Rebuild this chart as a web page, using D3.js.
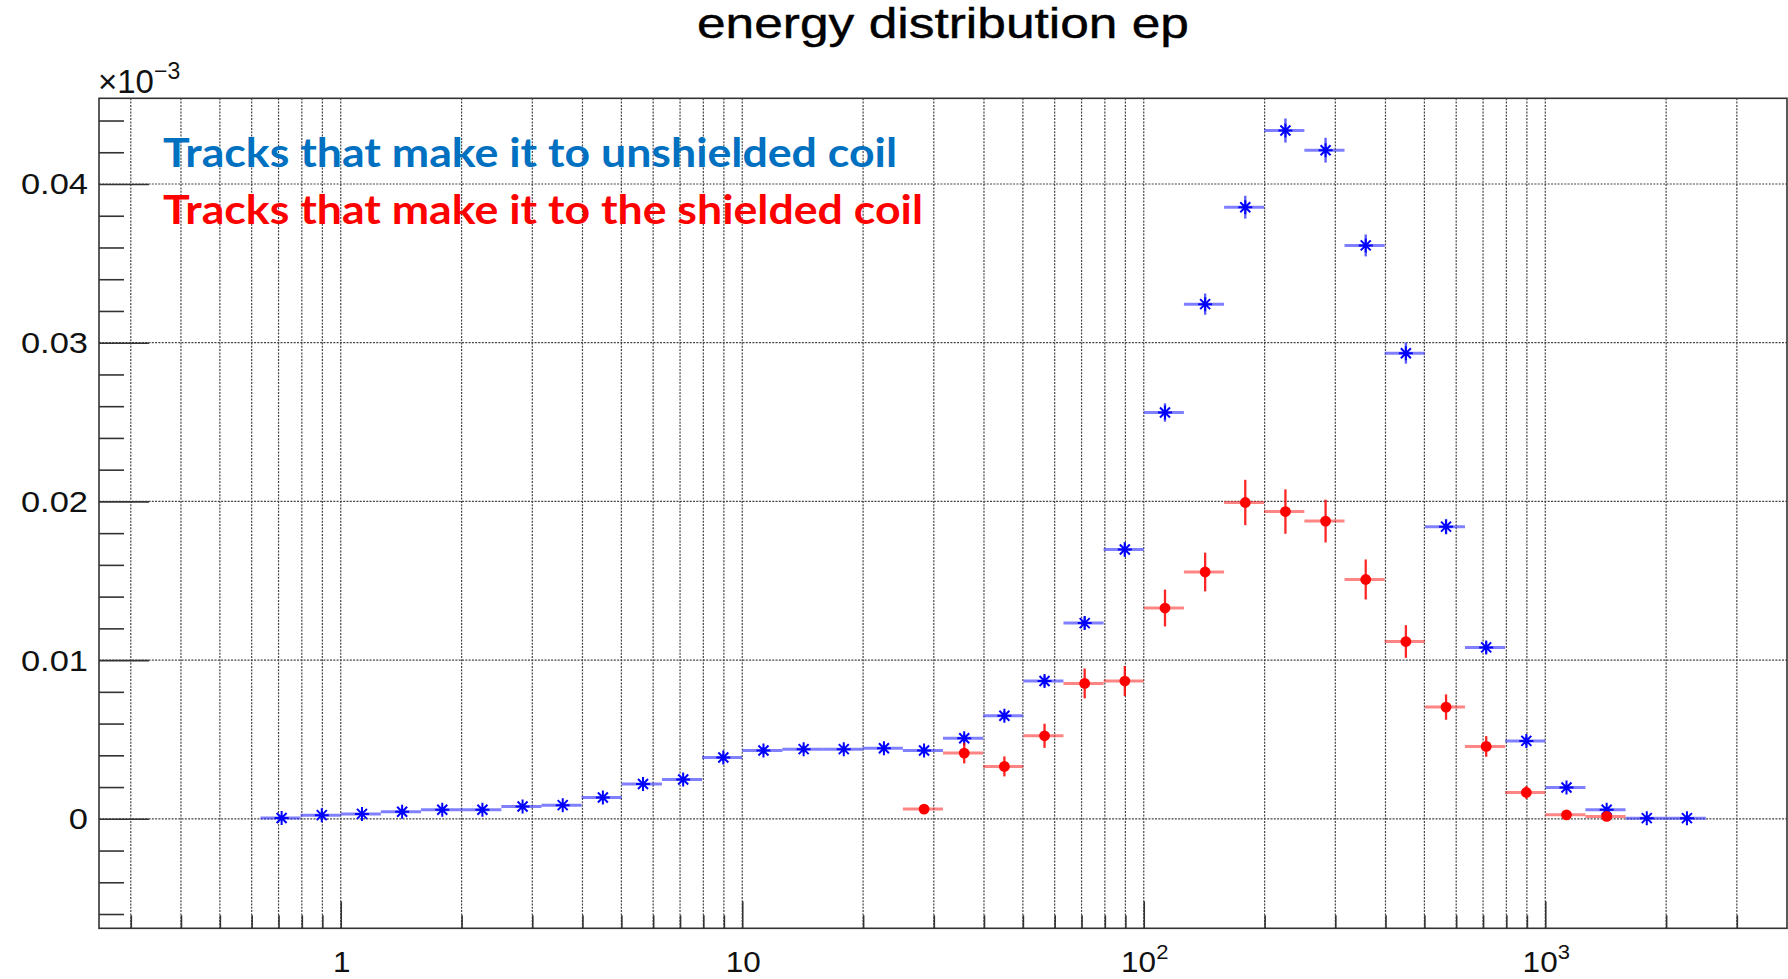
<!DOCTYPE html>
<html><head><meta charset="utf-8">
<script src="https://cdn.jsdelivr.net/npm/d3@7"></script>
<style>html,body{margin:0;padding:0;background:#fff;overflow:hidden}</style>
</head><body>
<svg id="chart" width="1788" height="979"></svg>
<script>
// ---- data ----
const binEdges = [0.631, 0.794, 1, 1.259, 1.585, 1.995, 2.512, 3.162, 3.981, 5.012, 6.310, 7.943,
  10, 12.59, 15.85, 19.95, 25.12, 31.62, 39.81, 50.12, 63.10, 79.43,
  100, 125.9, 158.5, 199.5, 251.2, 316.2, 398.1, 501.2, 631.0, 794.3,
  1000, 1259, 1585, 1995, 2512];
const blueValues = [0.00005, 0.00023, 0.00031, 0.00044, 0.00057, 0.00057, 0.00078, 0.00086, 0.00134,
  0.00219, 0.00248, 0.00386, 0.0043, 0.00439, 0.00439, 0.00445, 0.0043, 0.00508, 0.00649, 0.00868,
  0.01233, 0.01697, 0.0256, 0.03243, 0.03854, 0.04337, 0.04213, 0.03613, 0.02934, 0.01841, 0.0108,
  0.00491, 0.00197, 0.00057, 0.00004, 0.00004];
const blueErrors = [0.00003, 0.00006, 0.00006, 0.00008, 0.00009, 0.00009, 0.0001, 0.00011, 0.00013,
  0.00017, 0.00018, 0.00023, 0.00024, 0.00024, 0.00024, 0.00024, 0.00024, 0.00026, 0.00029, 0.00034,
  0.0004, 0.00047, 0.00058, 0.00067, 0.00072, 0.00076, 0.00078, 0.00069, 0.00066, 0.00049, 0.00038,
  0.00026, 0.00016, 0.00009, 0.00002, 0.00002];
const redValues = [null, null, null, null, null, null, null, null, null, null, null, null, null, null, null, null,
  0.00061, 0.00414, 0.0033, 0.00523, 0.00853, 0.00868, 0.01328, 0.01555, 0.01993, 0.01936, 0.01876,
  0.01508, 0.01117, 0.00704, 0.00456, 0.00166, 0.00025, 0.00015, null, null];
const redErrors = [null, null, null, null, null, null, null, null, null, null, null, null, null, null, null, null,
  0.00024, 0.00065, 0.00063, 0.00076, 0.00094, 0.00095, 0.00116, 0.00122, 0.00143, 0.0014, 0.00135,
  0.00126, 0.00103, 0.0008, 0.00065, 0.0004, 0.00015, 0.00012, null, null];

const xDomain = [0.25, 4000];
const yDomain = [-0.0069, 0.0454];
const xMajorTicks = [1, 10, 100, 1000];
const xLabelBase = ["1", "10", "10", "10"];
const xLabelExp = ["", "", "2", "3"];
const xMinorTicks = [0.3, 0.4, 0.5, 0.6, 0.7, 0.8, 0.9, 2, 3, 4, 5, 6, 7, 8, 9,
  20, 30, 40, 50, 60, 70, 80, 90, 200, 300, 400, 500, 600, 700, 800, 900, 2000, 3000];
const yMajorTicks = [0, 0.01, 0.02, 0.03, 0.04];
const yMajorLabels = ["0", "0.01", "0.02", "0.03", "0.04"];
const yMinorTicks = [-0.006, -0.004, -0.002, 0.002, 0.004, 0.006, 0.008, 0.012, 0.014, 0.016, 0.018,
  0.022, 0.024, 0.026, 0.028, 0.032, 0.034, 0.036, 0.038, 0.042, 0.044];
const titleText = "energy distribution ep";
const legendLabels = ["Tracks that make it to unshielded coil", "Tracks that make it to the shielded coil"];
const legendColors = ["#0070c0", "#ff0000"];

// ---- layout ----
const P = {left: 99, right: 1787, top: 98.3, bottom: 928.3};
const svg = d3.select("#chart");
const x = d3.scaleLog().domain(xDomain).range([P.left, P.right]);
const y = d3.scaleLinear().domain(yDomain).range([P.bottom, P.top]);

// grid
const grid = svg.append("g").attr("stroke", "#444").attr("stroke-width", 1.2).attr("stroke-dasharray", "2,1.3");
grid.selectAll("line.vx").data(xMajorTicks.concat(xMinorTicks)).join("line")
  .attr("x1", d => x(d)).attr("x2", d => x(d)).attr("y1", P.top).attr("y2", P.bottom);
grid.selectAll("line.hy").data(yMajorTicks).join("line")
  .attr("x1", P.left).attr("x2", P.right).attr("y1", d => y(d)).attr("y2", d => y(d));

// axes (ticks pointing inward, ROOT style)
const axStyle = g => { g.select(".domain").remove(); g.selectAll(".tick line").attr("stroke", "#333").attr("stroke-width", 1.6); };
svg.append("g").attr("transform", `translate(0,${P.bottom})`)
  .call(d3.axisBottom(x).tickValues(xMajorTicks).tickSize(-27).tickFormat("")).call(axStyle);
svg.append("g").attr("transform", `translate(0,${P.bottom})`)
  .call(d3.axisBottom(x).tickValues(xMinorTicks).tickSize(-13).tickFormat("")).call(axStyle);
svg.append("g").attr("transform", `translate(${P.left},0)`)
  .call(d3.axisLeft(y).tickValues(yMajorTicks).tickSize(-50).tickFormat("")).call(axStyle);
svg.append("g").attr("transform", `translate(${P.left},0)`)
  .call(d3.axisLeft(y).tickValues(yMinorTicks).tickSize(-25).tickFormat("")).call(axStyle);

// frame
svg.append("rect").attr("x", P.left).attr("y", P.top).attr("width", P.right - P.left).attr("height", P.bottom - P.top)
  .attr("fill", "none").attr("stroke", "#333").attr("stroke-width", 1.6);

const FONT = "'Liberation Sans', Arial, Helvetica, sans-serif";
// y labels
svg.append("g").selectAll("text").data(yMajorTicks).join("text")
  .attr("transform", d => `translate(88,${y(d) + 10.5}) scale(1.15,1)`)
  .attr("text-anchor", "end").attr("font-family", FONT).attr("font-size", 30).attr("fill", "#111")
  .text((d, i) => yMajorLabels[i]);
// x labels
const xl = svg.append("g").selectAll("text").data(xMajorTicks).join("text")
  .attr("transform", d => `translate(${x(d) + 1},972) scale(1.05,1)`)
  .attr("text-anchor", "middle").attr("font-family", FONT).attr("font-size", 30).attr("fill", "#111");
xl.append("tspan").text((d, i) => xLabelBase[i]);
xl.append("tspan").attr("dy", -13).attr("font-size", 21).text((d, i) => xLabelExp[i]);

// exponent label
const ex = svg.append("text").attr("x", 98).attr("y", 93).attr("font-family", FONT).attr("font-size", 33).attr("fill", "#111");
ex.append("tspan").text("\u00d710");
ex.append("tspan").attr("dy", -14).attr("font-size", 23).text("\u22123");

// title
svg.append("text").attr("x", 697).attr("y", 38).attr("font-family", FONT).attr("font-size", 42)
  .attr("textLength", 492).attr("lengthAdjust", "spacingAndGlyphs").attr("fill", "#000")
  .attr("stroke", "#000").attr("stroke-width", 0.4).text(titleText);

// ---- data series ----
const bins = blueValues.map((v, i) => ({lo: binEdges[i], hi: binEdges[i + 1], c: (binEdges[i] + binEdges[i + 1]) / 2,
  b: v, be: blueErrors[i], r: redValues[i], re: redErrors[i]}));

const gb = svg.append("g");
gb.selectAll("line.h").data(bins).join("line").attr("x1", d => x(d.lo)).attr("x2", d => x(d.hi))
  .attr("y1", d => y(d.b)).attr("y2", d => y(d.b)).attr("stroke", "#2b2bff").attr("stroke-opacity", 0.6).attr("stroke-width", 3);
gb.selectAll("line.v").data(bins).join("line").attr("x1", d => x(d.c)).attr("x2", d => x(d.c))
  .attr("y1", d => y(d.b - d.be)).attr("y2", d => y(d.b + d.be)).attr("stroke", "#2b2bff").attr("stroke-opacity", 0.75).attr("stroke-width", 2.4);
const s = 7, q = 5;
gb.selectAll("path.star").data(bins).join("path")
  .attr("d", d => { const cx = x(d.c), cy = y(d.b);
    return `M${cx - s},${cy}H${cx + s}M${cx},${cy - s}V${cy + s}M${cx - q},${cy - q}L${cx + q},${cy + q}M${cx - q},${cy + q}L${cx + q},${cy - q}`; })
  .attr("stroke", "#0000ff").attr("stroke-width", 2).attr("fill", "none");

const redBins = bins.filter(d => d.r !== null);
const gr = svg.append("g");
gr.selectAll("line.h").data(redBins).join("line").attr("x1", d => x(d.lo)).attr("x2", d => x(d.hi))
  .attr("y1", d => y(d.r)).attr("y2", d => y(d.r)).attr("stroke", "#ff2020").attr("stroke-opacity", 0.55).attr("stroke-width", 3);
gr.selectAll("line.v").data(redBins).join("line").attr("x1", d => x(d.c)).attr("x2", d => x(d.c))
  .attr("y1", d => y(d.r - d.re)).attr("y2", d => y(d.r + d.re)).attr("stroke", "#ff0000").attr("stroke-opacity", 0.85).attr("stroke-width", 2.3);
gr.selectAll("circle").data(redBins).join("circle").attr("cx", d => x(d.c)).attr("cy", d => y(d.r)).attr("r", 5.4).attr("fill", "#ff0000");

// legend text
const legendWidths = [734, 760];
svg.append("g").selectAll("text").data(legendLabels).join("text")
  .attr("x", 163).attr("y", (d, i) => 166.5 + i * 57)
  .attr("font-family", "Lato, 'Open Sans', sans-serif").attr("font-weight", 700).attr("font-size", 40)
  .attr("textLength", (d, i) => legendWidths[i]).attr("lengthAdjust", "spacingAndGlyphs")
  .attr("fill", (d, i) => legendColors[i]).text(d => d);
</script>
</body></html>
